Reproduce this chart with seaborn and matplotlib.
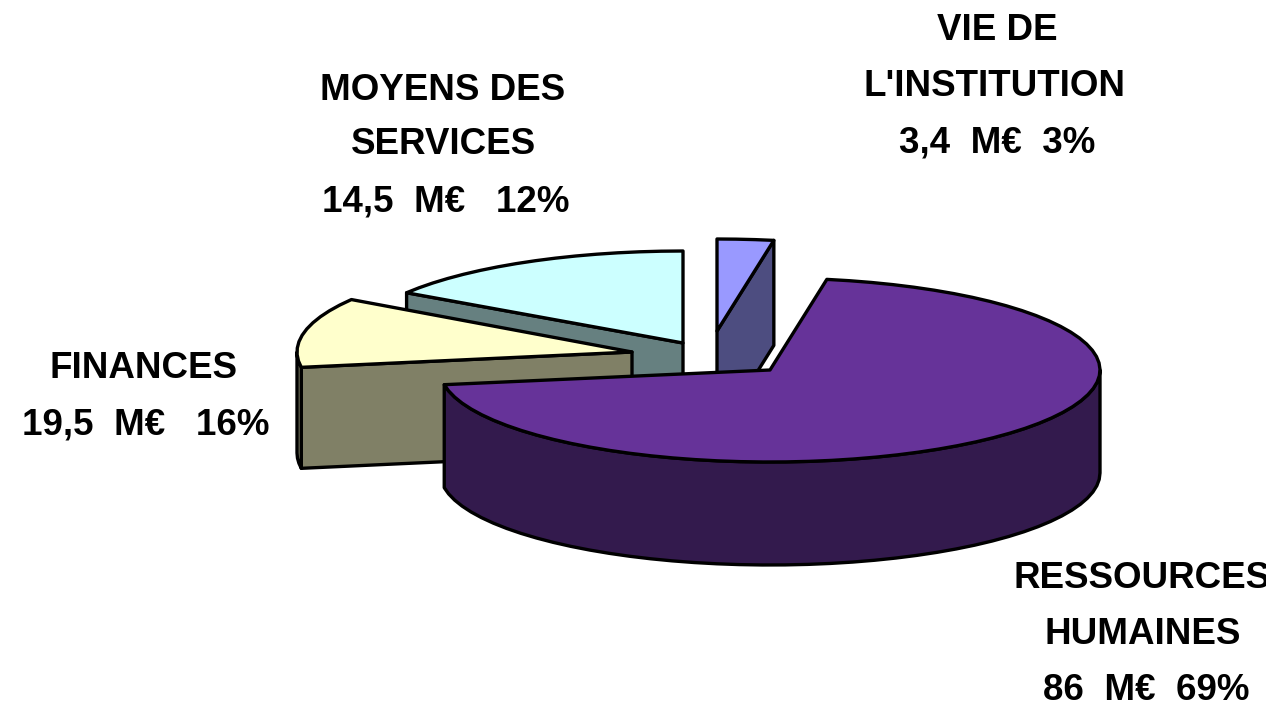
import numpy as np
import matplotlib
matplotlib.use("Agg")
import matplotlib.pyplot as plt
import seaborn as sns

# Slices clockwise from 12 o'clock. The source drew the two middle slices with these
# sizes (yellow 14.5, cyan 19.5) while its labels name them the other way round.
slice_names = ["VIE", "RH", "JAUNE", "CYAN"]
slice_values = [3.4, 86.0, 14.5, 19.5]
top_colors = ["#9999FF", "#663399", "#FFFFCC", "#CCFFFF"]
side_colors = ["#4D4D80", "#331A4D", "#808066", "#668080"]

label_lines = [
    "VIE DE", "L'INSTITUTION", "3,4  M€  3%",
    "MOYENS DES", "SERVICES", "14,5  M€   12%",
    "FINANCES", "19,5  M€   16%",
    "RESSOURCES", "HUMAINES", "86  M€  69%",
]
label_x = [997, 995, 997, 443, 443, 446, 144, 146, 1142, 1143, 1146]
label_y = [30, 86, 143, 90, 145, 202, 369, 425, 578, 634, 690]

# layout of the exploded slices (pixels)
centers = {"VIE": (717, 331), "RH": (770, 370), "JAUNE": (632, 352), "CYAN": (683, 343)}
radii = {"VIE": (330, 92), "RH": (330, 92), "JAUNE": (335, 96), "CYAN": (330, 92)}
depths = {"VIE": 105, "RH": 103, "JAUNE": 101, "CYAN": 100}
draw_order = ["VIE", "CYAN", "JAUNE", "RH"]

sns.set_theme(style="white")
plt.rcParams["font.family"] = ["Liberation Sans", "DejaVu Sans"]

fig = plt.figure(figsize=(12.66, 7.07), dpi=100)
ax = fig.add_axes([0, 0, 1, 1])
ax.set_xlim(0, 1266)
ax.set_ylim(707, 0)
ax.axis("off")

edges = np.concatenate([[0], np.cumsum(slice_values)]) / np.sum(slice_values) * 360
LW = 2.4


def rim(name, t0, t1):
    t = np.radians(np.linspace(t0, t1, max(2, int(abs(t1 - t0) / 4) + 2)))
    cx, cy = centers[name]
    rx, ry = radii[name]
    return np.column_stack([cx + rx * np.sin(t), cy - ry * np.cos(t)])


def shape(pts, color):
    ax.fill(pts[:, 0], pts[:, 1], facecolor=color, edgecolor="black",
            linewidth=LW, joinstyle="round")


for name in draw_order:
    i = slice_names.index(name)
    t0, t1 = edges[i], edges[i + 1]
    apex = np.array([centers[name]], dtype=float)
    down = np.array([0, depths[name]])
    # radial face seen by the viewer
    if name == "VIE":
        e = rim(name, t1, t1)[:1]
        shape(np.vstack([apex, e, e + down, apex + down]), side_colors[i])
    elif name in ("JAUNE", "CYAN"):
        e = rim(name, t0, t0)[:1]
        shape(np.vstack([apex, e, e + down, apex + down]), side_colors[i])
    # outer wall, front half of the rim only
    lo, hi = max(t0, 90), min(t1, 270)
    if hi > lo:
        r = rim(name, lo, hi)
        shape(np.vstack([r, (r + down)[::-1]]), side_colors[i])
    # top surface
    shape(np.vstack([apex, rim(name, t0, t1)]), top_colors[i])

for s, x, y in zip(label_lines, label_x, label_y):
    ax.text(x, y, s, ha="center", va="center", fontsize=26.5, fontweight="bold",
            color="black")

fig.savefig("out.png", dpi=100)
